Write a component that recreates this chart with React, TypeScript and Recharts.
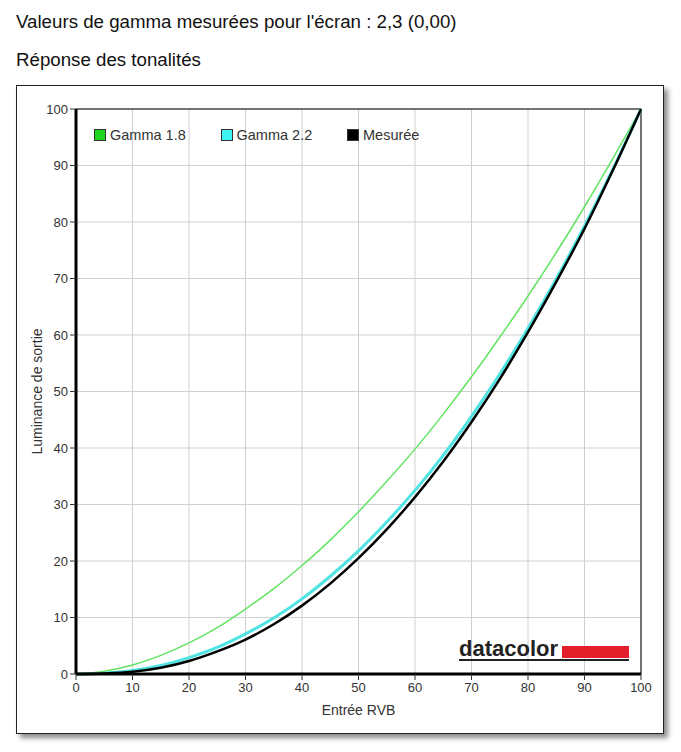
import React from "react";
import {
  LineChart,
  Line,
  XAxis,
  YAxis,
  CartesianGrid,
  ReferenceLine,
  Label,
} from "recharts";

const inputs = [0, 5, 10, 15, 20, 25, 30, 35, 40, 45, 50, 55, 60, 65, 70, 75, 80, 85, 90, 95, 100];
const gamma18 = [0, 0.5, 1.6, 3.3, 5.5, 8.2, 11.5, 15.1, 19.2, 23.7, 28.7, 34.1, 39.8, 46.0, 52.6, 59.6, 66.9, 74.6, 82.7, 91.2, 100];
const gamma22 = [0, 0.15, 0.6, 1.5, 2.9, 4.7, 7.1, 9.9, 13.3, 17.3, 21.8, 26.9, 32.5, 38.7, 45.6, 53.1, 61.2, 69.9, 79.3, 89.3, 100];
const measured = [0, 0.1, 0.4, 1.1, 2.3, 4.0, 6.1, 8.8, 12.1, 16.0, 20.5, 25.6, 31.3, 37.6, 44.6, 52.2, 60.5, 69.4, 78.8, 89.1, 100];
const axisTicks = [0, 10, 20, 30, 40, 50, 60, 70, 80, 90, 100];

const seriesNames = ["Gamma 1.8", "Gamma 2.2", "Mesurée"];
const seriesColors = ["#62e462", "#4fe3e3", "#000000"];
const legendSwatch = ["#1fd61f", "#3ff3f3", "#000000"];

const data = inputs.map((x, i) => ({
  x,
  g18: gamma18[i],
  g22: gamma22[i],
  mes: measured[i],
}));

const FONT = "'Liberation Sans', Arial, sans-serif";

const LegendOverlay = () => (
  <div style={{ position: "absolute", left: 86, top: 120, width: 400, height: 14, fontFamily: FONT }}>
    {seriesNames.map((n, i) => (
      <div
        key={n}
        style={{
          position: "absolute",
          left: i * 126.5,
          top: 0,
          display: "flex",
          alignItems: "center",
          height: 14,
          whiteSpace: "nowrap",
        }}
      >
        <span
          style={{
            display: "inline-block",
            width: 10,
            height: 10,
            background: legendSwatch[i],
            border: "1px solid #333",
            marginRight: 4,
          }}
        />
        <span style={{ fontSize: 14.5, color: "#333", lineHeight: "14px" }}>{n}</span>
      </div>
    ))}
  </div>
);

const YLabel = (props: any) => {
  const vb = props.viewBox || { x: 0, y: 24, width: 60, height: 565 };
  const cx = 26;
  const cy = vb.y + vb.height / 2;
  return (
    <text
      x={cx}
      y={cy}
      transform={`rotate(-90, ${cx}, ${cy})`}
      textAnchor="middle"
      fontSize={14}
      fill="#333"
      fontFamily={FONT}
    >
      Luminance de sortie
    </text>
  );
};

const XLabel = (props: any) => {
  const vb = props.viewBox || { x: 60, y: 589, width: 565, height: 59 };
  return (
    <text
      x={vb.x + vb.width / 2}
      y={vb.y + 41}
      textAnchor="middle"
      fontSize={14}
      fill="#333"
      fontFamily={FONT}
    >
      Entrée RVB
    </text>
  );
};

export default function App() {
  return (
    <div style={{ position: "relative", width: 665, height: 744, fontFamily: FONT }}>
      <div
        style={{
          position: "absolute",
          left: 8,
          top: 5,
          fontSize: 18.7,
          lineHeight: "18.7px",
          color: "#111",
          whiteSpace: "nowrap",
        }}
      >
        Valeurs de gamma mesurées pour l'écran : 2,3 (0,00)
      </div>
      <div
        style={{
          position: "absolute",
          left: 8,
          top: 43,
          fontSize: 18.7,
          lineHeight: "18.7px",
          color: "#111",
          whiteSpace: "nowrap",
        }}
      >
        Réponse des tonalités
      </div>
      <div
        style={{
          position: "absolute",
          left: 8,
          top: 77,
          width: 648,
          height: 649,
          boxSizing: "border-box",
          border: "1px solid #222",
          background: "#fff",
          boxShadow: "4px 4px 5px rgba(0,0,0,0.45)",
        }}
      />
      <div style={{ position: "absolute", left: 8, top: 77 }}>
        <LineChart
          width={647}
          height={648}
          data={data}
          margin={{ top: 24, right: 22, left: 0, bottom: 0 }}
        >
          <CartesianGrid stroke="#cfcfcf" strokeWidth={1} />
          <XAxis
            dataKey="x"
            type="number"
            domain={[0, 100]}
            ticks={axisTicks}
            height={59}
            axisLine={{ stroke: "#000", strokeWidth: 3 }}
            tickLine={{ stroke: "#333", strokeWidth: 1 }}
            tickSize={6}
            tickMargin={3}
            tick={{ fontSize: 13, fill: "#333", fontFamily: FONT }}
            interval={0}
          >
            <Label content={<XLabel />} />
          </XAxis>
          <YAxis
            type="number"
            domain={[0, 100]}
            ticks={axisTicks}
            width={60}
            axisLine={{ stroke: "#000", strokeWidth: 3 }}
            tickLine={{ stroke: "#333", strokeWidth: 1 }}
            tickSize={6}
            tickMargin={2}
            tick={{ fontSize: 13, fill: "#333", fontFamily: FONT }}
            interval={0}
          >
            <Label content={<YLabel />} />
          </YAxis>
          <ReferenceLine y={100} stroke="#000" strokeWidth={1} />
          <ReferenceLine x={100} stroke="#000" strokeWidth={1} />
          <Line
            dataKey="g18"
            type="monotone"
            stroke={seriesColors[0]}
            strokeWidth={1.5}
            dot={false}
            isAnimationActive={false}
          />
          <Line
            dataKey="g22"
            type="monotone"
            stroke={seriesColors[1]}
            strokeWidth={3}
            dot={false}
            isAnimationActive={false}
          />
          <Line
            dataKey="mes"
            type="monotone"
            stroke={seriesColors[2]}
            strokeWidth={2.5}
            dot={false}
            isAnimationActive={false}
          />
        </LineChart>
      </div>
      <LegendOverlay />
      <div
        style={{
          position: "absolute",
          left: 451,
          top: 630,
          fontSize: 22,
          lineHeight: "22px",
          fontWeight: "bold",
          color: "#222",
          letterSpacing: 0,
        }}
      >
        datacolor
      </div>
      <div
        style={{
          position: "absolute",
          left: 554,
          top: 638,
          width: 67,
          height: 12,
          background: "#e21f2b",
        }}
      />
      <div
        style={{
          position: "absolute",
          left: 451,
          top: 651,
          width: 170,
          height: 2,
          background: "#222",
        }}
      />
    </div>
  );
}
